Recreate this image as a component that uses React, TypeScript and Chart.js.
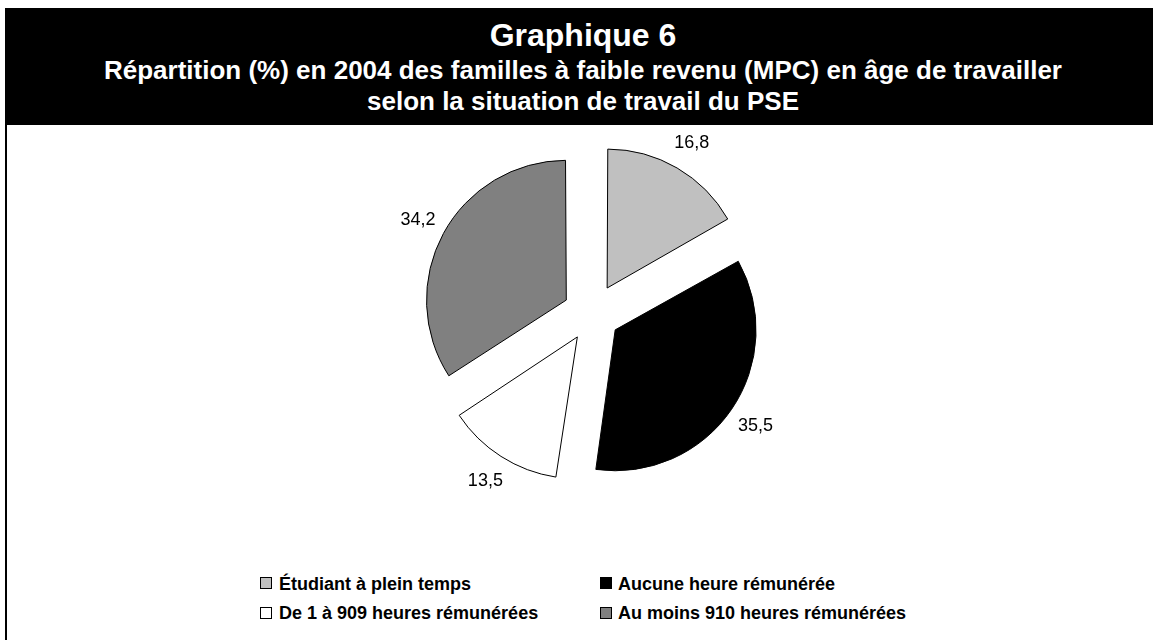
import React, { useEffect, useRef } from "react";
import { Chart, registerables } from "chart.js";

Chart.register(...registerables);

const categories = [
  "Étudiant à plein temps",
  "Aucune heure rémunérée",
  "De 1 à 909 heures rémunérées",
  "Au moins 910 heures rémunérées",
];
const values = [16.8, 35.5, 13.5, 34.2];
const valueLabels = ["16,8", "35,5", "13,5", "34,2"];
const colors = ["#c0c0c0", "#000000", "#ffffff", "#808080"];
const titleMain = "Graphique 6";
const subtitleLines = [
  "Répartition (%) en 2004 des familles à faible revenu (MPC) en âge de travailler",
  "selon la situation de travail du PSE",
];

const FONT = '"Liberation Sans", Arial, Helvetica, sans-serif';
const EXPLODE = 34;
const RADIUS = 135;
const LABEL_GAP = 29;

const total = values.reduce((a, b) => a + b, 0);

const labelPlugin = {
  id: "sliceLabels",
  afterDatasetsDraw(chart: any) {
    const meta = chart.getDatasetMeta(0);
    const ctx = chart.ctx;
    ctx.save();
    ctx.font = `18px ${FONT}`;
    ctx.fillStyle = "#000";
    ctx.textAlign = "center";
    ctx.textBaseline = "middle";
    meta.data.forEach((arc: any, i: number) => {
      const mid = (arc.startAngle + arc.endAngle) / 2;
      const d = arc.outerRadius + EXPLODE + LABEL_GAP;
      ctx.fillText(valueLabels[i], arc.x + Math.cos(mid) * d, arc.y + Math.sin(mid) * d);
    });
    ctx.restore();
  },
};

function PieChart() {
  const ref = useRef<HTMLCanvasElement | null>(null);
  useEffect(() => {
    if (!ref.current) return;
    const chart = new Chart(ref.current, {
      type: "pie",
      data: {
        labels: categories,
        datasets: [
          {
            data: values,
            backgroundColor: colors,
            borderColor: "#000000",
            borderWidth: 1,
            offset: (c: any) => {
              const circ = (values[c.dataIndex] / total) * Math.PI * 2;
              const fix = 1 - Math.sin(Math.min(Math.PI, circ));
              return (4 * EXPLODE) / (1 + fix);
            },
          } as any,
        ],
      },
      options: {
        responsive: false,
        animation: false,
        radius: RADIUS,
        layout: { padding: { left: 31, right: 0, top: 0, bottom: 62 } },
        plugins: {
          legend: { display: false },
          tooltip: { enabled: false },
          title: { display: false },
        },
        events: [],
      } as any,
      plugins: [labelPlugin],
    });
    return () => chart.destroy();
  }, []);
  return (
    <canvas
      ref={ref}
      width={1153}
      height={440}
      style={{ position: "absolute", left: 0, top: 125, width: 1153, height: 440 }}
    />
  );
}

const legendPos = [
  { mx: 260, my: 577, tx: 279, ty: 575 },
  { mx: 600, my: 577, tx: 618, ty: 575 },
  { mx: 260, my: 607, tx: 279, ty: 604 },
  { mx: 600, my: 607, tx: 618, ty: 604 },
];

export default function App() {
  return (
    <div
      style={{
        position: "absolute",
        left: 0,
        top: 0,
        width: 1153,
        height: 640,
        background: "#fff",
        overflow: "hidden",
        fontFamily: FONT,
      }}
    >
      <div
        style={{
          position: "absolute",
          left: 5,
          top: 8,
          width: 1148,
          height: 117,
          background: "#000",
        }}
      />
      <div
        style={{
          position: "absolute",
          left: 5,
          top: 125,
          width: 2,
          height: 515,
          background: "#000",
        }}
      />
      <div
        style={{
          position: "absolute",
          left: 5,
          width: 1148,
          top: 19,
          height: 32,
          lineHeight: "32px",
          fontSize: 32,
          fontWeight: "bold",
          color: "#fff",
          textAlign: "center",
          paddingLeft: 8,
          boxSizing: "border-box",
        }}
      >
        {titleMain}
      </div>
      {subtitleLines.map((line, i) => (
        <div
          key={i}
          style={{
            position: "absolute",
            left: 5,
            width: 1148,
            top: 55 + i * 31,
            height: 31,
            lineHeight: "31px",
            fontSize: 26,
            fontWeight: "bold",
            color: "#fff",
            textAlign: "center",
            paddingLeft: 8,
            boxSizing: "border-box",
            whiteSpace: "nowrap",
          }}
        >
          {line}
        </div>
      ))}
      <PieChart />
      {categories.map((cat, i) => (
        <React.Fragment key={cat}>
          <div
            style={{
              position: "absolute",
              left: legendPos[i].mx,
              top: legendPos[i].my,
              width: 12,
              height: 12,
              boxSizing: "border-box",
              border: "1px solid #000",
              background: colors[i],
            }}
          />
          <div
            style={{
              position: "absolute",
              left: legendPos[i].tx,
              top: legendPos[i].ty,
              height: 18,
              lineHeight: "18px",
              fontSize: 18,
              fontWeight: "bold",
              color: "#000",
              whiteSpace: "nowrap",
            }}
          >
            {cat}
          </div>
        </React.Fragment>
      ))}
    </div>
  );
}
